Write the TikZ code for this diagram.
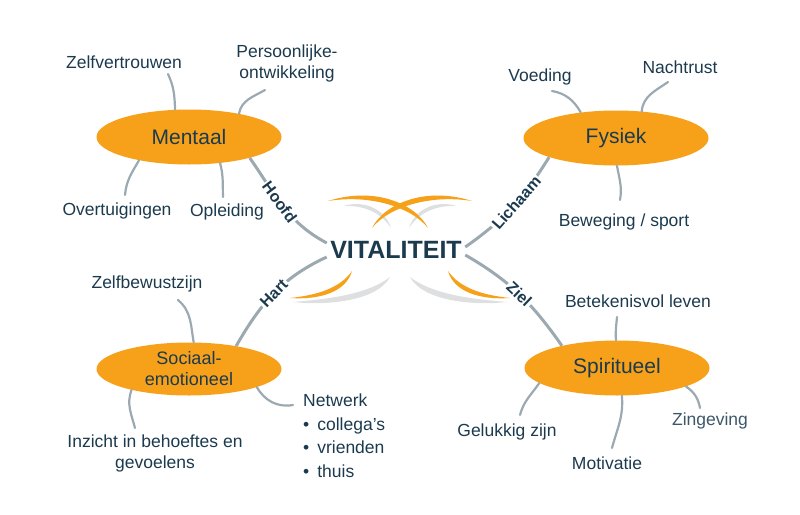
\documentclass[tikz,border=0pt]{standalone}
\usepackage{fontspec}
\setmainfont{Liberation Sans}
\usepackage{tikz}
\usetikzlibrary{shapes.geometric}
\definecolor{vorange}{HTML}{F7A11A}
\definecolor{vgray}{HTML}{9CA9B1}
\definecolor{vlight}{HTML}{DEDFE0}
\definecolor{vtext}{HTML}{1B3A4E}
\tikzstyle{area} = [ellipse, fill=vorange, minimum width=185pt, minimum height=55pt, inner sep=0pt, text=vtext, font=\fontsize{21}{24}\selectfont]
\tikzstyle{item} = [text=vtext, align=center, inner sep=1pt, font=\fontsize{17.5}{21}\selectfont]
\tikzstyle{branch} = [draw=vgray, line width=3pt]
\tikzstyle{twig} = [draw=vgray, line width=2.2pt, line cap=round]
\tikzstyle{tag} = [sloped, fill=white, inner sep=1.5pt, text=vtext, font=\bfseries\fontsize{16}{16}\selectfont]

\begin{document}
\begin{tikzpicture}[x=1pt, y=-1pt]
    \useasboundingbox (0,0) rectangle (800,514);

    % kern
    \node[text=vtext, font=\bfseries\fontsize{25}{28}\selectfont] (vital) at (396,250) {VITALITEIT};

    % sierbogen
    \fill[vlight] (343,206) .. controls (368,199) and (386,212) .. (391,228) .. controls (382,214) and (366,205) .. (343,206);
    \fill[vlight] (457,206) .. controls (432,199) and (414,212) .. (409,228) .. controls (418,214) and (434,205) .. (457,206);
    \fill[vorange] (328,201) .. controls (375,186) and (416,204) .. (428,228) .. controls (412,208) and (372,194) .. (328,201);
    \fill[vorange] (472,201) .. controls (425,186) and (384,204) .. (372,228) .. controls (388,208) and (428,194) .. (472,201);
    \fill[vlight] (390,277) .. controls (378,300) and (330,306) .. (293,302) .. controls (330,299) and (368,294) .. (390,277);
    \fill[vlight] (410,277) .. controls (422,300) and (470,306) .. (507,302) .. controls (470,299) and (432,294) .. (410,277);
    \fill[vorange] (352,271) .. controls (346,292) and (320,300) .. (290,298) .. controls (318,295) and (340,288) .. (352,271);
    \fill[vorange] (448,271) .. controls (454,292) and (480,300) .. (510,298) .. controls (482,295) and (460,288) .. (448,271);

    % gebieden
    \node[area] (mentaal) at (189,137) {Mentaal};
    \node[area] (fysiek) at (616,138) {Fysiek};
    \node[area, minimum height=53pt, font=\fontsize{18}{21}\selectfont, align=center] (sociaal) at (189,369) {Sociaal-\\emotioneel};
    \node[area] (spirit) at (617,368) {Spiritueel};

    % hoofdtakken
    \draw[branch] (mentaal.341) to[out=-55, in=152] node[tag, pos=0.45] {Hoofd} ([yshift=7pt]vital.west);
    \draw[branch] (fysiek.196) to[out=238, in=35] node[tag, pos=0.45] {Lichaam} ([yshift=3pt]vital.east);
    \draw[branch] ([yshift=-7pt]vital.west) to[out=205, in=60] node[tag, pos=0.5] {Hart} (sociaal.26);
    \draw[branch] ([yshift=-5pt]vital.east) to[out=-30, in=125] node[tag, pos=0.5] {Ziel} (spirit.158);

    % mentaal
    \node[item] (zelfv) at (124,62) {Zelfvertrouwen};
    \node[item] (perso) at (287,63) {Persoonlijke-\\ontwikkeling};
    \node[item] (overt) at (117,211) {Overtuigingen};
    \node[item] (oplei) at (227,212) {Opleiding};
    \coordinate (zelfvE) at (168,74);
    \coordinate (persoE) at (265,90);
    \coordinate (overtE) at (125,195);
    \coordinate (opleiE) at (223,197);
    \draw[twig] (mentaal.117) to[out=92, in=-65] (zelfvE);
    \draw[twig] (mentaal.25) to[out=80, in=210] (persoE);
    \draw[twig] (mentaal.205) to[out=240, in=85] (overtE);
    \draw[twig] (mentaal.320) to[out=-75, in=92] (opleiE);

    % fysiek
    \node[item] (voed) at (540,77) {Voeding};
    \node[item] (nacht) at (680,67) {Nachtrust};
    \node[item] (beweg) at (624,222) {Beweging / sport};
    \coordinate (voedE) at (552,91);
    \coordinate (nachtE) at (668,82);
    \coordinate (bewegE) at (620,200);
    \draw[twig] (fysiek.144) to[out=120, in=-10] (voedE);
    \draw[twig] (fysiek.46) to[out=85, in=215] (nachtE);
    \draw[twig] (fysiek.272) to[out=-80, in=80] (bewegE);

    % sociaal-emotioneel
    \node[item] (zelfb) at (147,284) {Zelfbewustzijn};
    \node[item] (inzicht) at (155,453) {Inzicht in behoeftes en\\gevoelens};
    \node[item, align=left, anchor=north west, font=\fontsize{17.5}{23.5}\selectfont] (netw) at (302,393) {Netwerk\\\textbullet\hspace{8pt}collega's\\\textbullet\hspace{8pt}vrienden\\\textbullet\hspace{8pt}thuis};
    \coordinate (zelfbE) at (178,300);
    \coordinate (inzichtE) at (135,428);
    \coordinate (netwE) at (293,405);
    \draw[twig] (sociaal.80) to[out=100, in=-40] (zelfbE);
    \draw[twig] (sociaal.200) to[out=250, in=105] (inzichtE);
    \draw[twig] (sociaal.345) to[out=-60, in=190] (netwE);

    % spiritueel
    \node[item] (betek) at (638,301) {Betekenisvol leven};
    \node[item] (geluk) at (507,432) {Gelukkig zijn};
    \node[item] (motiv) at (607,463) {Motivatie};
    \node[item, text=vtext!85!white] (zinge) at (710,421) {Zingeving};
    \coordinate (betekE) at (617,317);
    \coordinate (gelukE) at (520,415);
    \coordinate (motivE) at (612,448);
    \coordinate (zingeE) at (700,408);
    \draw[twig] (spirit.92) to[out=95, in=-95] (betekE);
    \draw[twig] (spirit.191) to[out=235, in=75] (gelukE);
    \draw[twig] (spirit.280) to[out=-85, in=75] (motivE);
    \draw[twig] (spirit.345) to[out=-35, in=100] (zingeE);
\end{tikzpicture}
\end{document}
